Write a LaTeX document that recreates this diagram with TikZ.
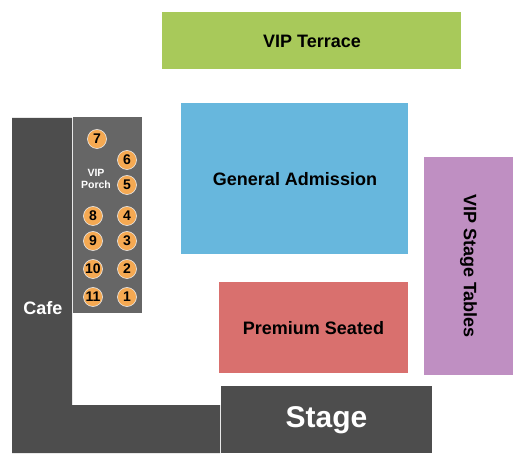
\documentclass[tikz,border=0pt]{standalone}
\usepackage{fontspec}
\setmainfont{Liberation Sans}
\definecolor{terrace}{HTML}{A8C95A}
\definecolor{ga}{HTML}{67B7DD}
\definecolor{vst}{HTML}{BF8FC2}
\definecolor{prem}{HTML}{D9706E}
\definecolor{darkg}{HTML}{4D4D4D}
\definecolor{porch}{HTML}{666666}
\definecolor{seat}{HTML}{F5A952}
\begin{document}
\begin{tikzpicture}[x=1pt,y=-1pt,
  lbl/.style={text=black, font=\bfseries\fontsize{18}{18}\selectfont},
  seatc/.style={circle, fill=seat, draw=white!85!gray, line width=0.6pt, minimum size=19pt, inner sep=0pt, font=\bfseries\fontsize{14}{14}\selectfont}]
\useasboundingbox (0,0) rectangle (525,470);
\fill[white] (0,0) rectangle (525,470);
% sections
\fill[terrace] (162,12) rectangle (461,69);
\node[lbl] (terr) at (312,41) {VIP Terrace};
\fill[ga] (181,103) rectangle (408,254);
\node[lbl] (gen) at (295,179) {General Admission};
\fill[vst] (424,157) rectangle (513,375);
\node[lbl,rotate=-90] (vipst) at (468.5,266) {VIP Stage Tables};
\fill[prem] (219,282) rectangle (408,373);
\node[lbl] (pre) at (313.5,328) {Premium Seated};
\fill[darkg] (221,386) rectangle (432,453);
\node[font=\bfseries\fontsize{30}{30}\selectfont,text=white] (stage) at (326.5,420) {Stage};
% cafe L
\fill[darkg] (12,118) -- (72,118) -- (72,405) -- (220,405) -- (220,453) -- (12,453) -- cycle;
\node[font=\bfseries\fontsize{18}{18}\selectfont,text=white] (cafe) at (43,308) {Cafe};
% porch
\fill[porch] (73,117) rectangle (142,313);
\node[font=\bfseries\fontsize{10.5}{12}\selectfont,text=white,align=center] (porchl) at (96,179) {VIP\\Porch};
\node[seatc] (s7) at (97,139) {7};
\node[seatc] (s6) at (127,160) {6};
\node[seatc] (s5) at (127,185) {5};
\node[seatc] (s8) at (93,216) {8};
\node[seatc] (s4) at (127,216) {4};
\node[seatc] (s9) at (93,241) {9};
\node[seatc] (s3) at (127,241) {3};
\node[seatc] (s10) at (93,269) {10};
\node[seatc] (s2) at (127,269) {2};
\node[seatc] (s11) at (93,297) {11};
\node[seatc] (s1) at (127,297) {1};
\end{tikzpicture}
\end{document}
